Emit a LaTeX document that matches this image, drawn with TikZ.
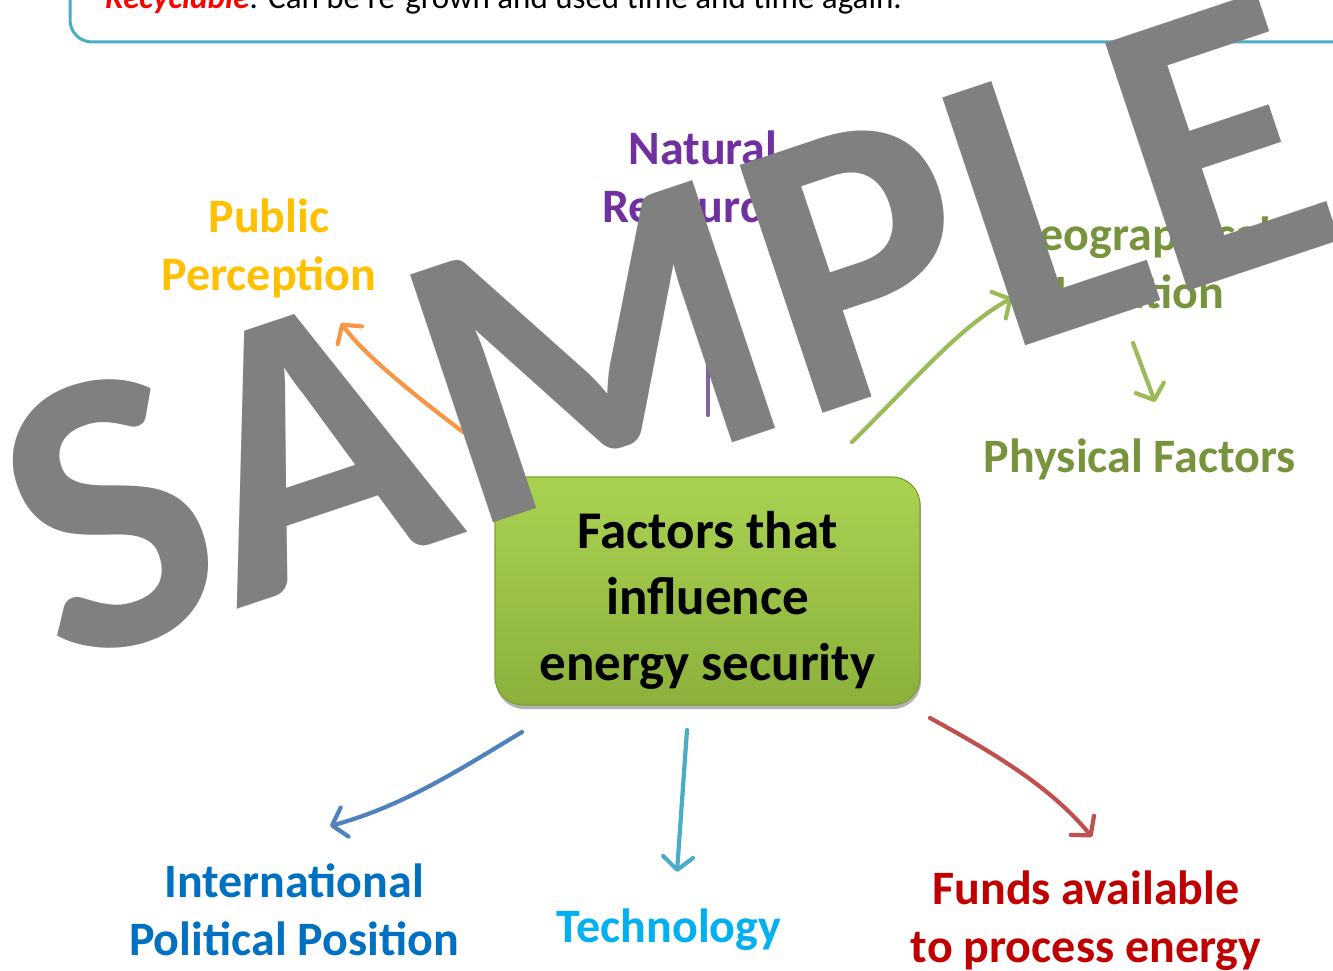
\documentclass[tikz,border=0pt]{standalone}
\usepackage{fontspec}
\setmainfont{Carlito}
\usetikzlibrary{arrows.meta,calc,shadows}

\definecolor{panelline}{HTML}{4BACC6}
\definecolor{recred}{HTML}{FF0000}
\definecolor{hubtop}{HTML}{AAD251}
\definecolor{hubbot}{HTML}{8BB13B}
\definecolor{hubedge}{HTML}{7E9E38}
\definecolor{wmgray}{HTML}{808080}
\definecolor{cPublic}{HTML}{FFC000}
\definecolor{cNatural}{HTML}{7030A0}
\definecolor{cGeo}{HTML}{77933C}
\definecolor{cIntl}{HTML}{0070C0}
\definecolor{cTech}{HTML}{00B0F0}
\definecolor{cFunds}{HTML}{C00000}
\definecolor{aOrange}{HTML}{F79646}
\definecolor{aPurple}{HTML}{8064A2}
\definecolor{aGreen}{HTML}{9BBB59}
\definecolor{aBlue}{HTML}{4F81BD}
\definecolor{aAqua}{HTML}{4BACC6}
\definecolor{aRed}{HTML}{C0504D}

\begin{document}
\begin{tikzpicture}[x=1pt,y=-1pt,
  label/.style={font=\bfseries\fontsize{48}{58}\selectfont, align=center, inner sep=0pt, anchor=base},
  link/.style={line width=4.2pt, line cap=round, -{Straight Barb[length=13pt,width=30pt,line cap=round,line join=round]}},
  hubbox/.style={rounded corners=28pt, minimum width=425pt, minimum height=228pt,
    top color=hubtop, bottom color=hubbot, draw=hubedge, line width=1.2pt,
    drop shadow={shadow xshift=1pt, shadow yshift=-4pt, opacity=0.3, fill=black}},
  hubtext/.style={font=\bfseries\fontsize{53}{66}\selectfont, align=center, inner sep=0pt, anchor=base},
  watermark/.style={font=\bfseries\fontsize{403}{403}\selectfont, text=wmgray, inner sep=0pt, rotate=18.5}
]
\useasboundingbox (0,0) rectangle (1333,971);
\clip (0,0) rectangle (1333,971);

% header panel running off the top and right edges
\draw[panelline, line width=3pt, rounded corners=22pt] (70,-120) rectangle (1420,42);
\node[anchor=base west, font=\fontsize{33}{40}\selectfont, inner sep=0pt] (recyc) at (105,9)
  {\textcolor{recred}{\textbf{\textit{Recyclable}}}: Can be re-grown and used time and time again.};

% central box (text anchored on the baseline of its last line)
\node[hubbox] (hub) at (707.5,591) {};
\node[hubtext] (hubtxt) at (707.5,680) {Factors that\\influence\\energy security};

% surrounding factors (anchored on the baseline of the last line)
\node[label, text=cPublic]  (public) at (269,290) {Public\\Perception};
\node[label, text=cNatural] (natural) at (703,222) {Natural\\Resources};
\node[label, text=cGeo]     (geo) at (1140,308) {Geographical\\Location};
\node[label, text=cGeo]     (phys) at (1140,472) {Physical Factors};
\node[label, text=cIntl]    (intl) at (294,955) {International\\Political Position};
\node[label, text=cTech]    (tech) at (669,942) {Technology};
\node[label, text=cFunds]   (funds) at (1086,962) {Funds available\\to process energy};

% connector end points
\coordinate (pubS) at (463,432);   \coordinate (pubE) at (341,323);
\coordinate (natS) at (708,415);   \coordinate (natE) at (708,295);
\coordinate (geoS) at (852,442);   \coordinate (geoE) at (1012,298);
\coordinate (phyS) at (1133,343);  \coordinate (phyE) at (1155,402);
\coordinate (intS) at (522,732);   \coordinate (intE) at (330,826);
\coordinate (tecS) at (687,730);   \coordinate (tecE) at (677,872);
\coordinate (funS) at (930,718);   \coordinate (funE) at (1092,837);

\draw[link, aOrange] (pubS) .. controls (405,388) and (362,352) .. (pubE);
\draw[link, aPurple] (natS) -- (natE);
\draw[link, aGreen]  (geoS) .. controls (912,383) and (960,326) .. (geoE);
\draw[link, aGreen]  (phyS) -- (phyE);
\draw[link, aBlue]   (intS) .. controls (462,768) and (404,806) .. (intE);
\draw[link, aAqua]   (tecS) -- (tecE);
\draw[link, aRed]    (funS) .. controls (992,752) and (1050,786) .. (funE);

% watermark over everything
\node[watermark] (wm) at (665,328) {SAMPLE};
\end{tikzpicture}
\end{document}
